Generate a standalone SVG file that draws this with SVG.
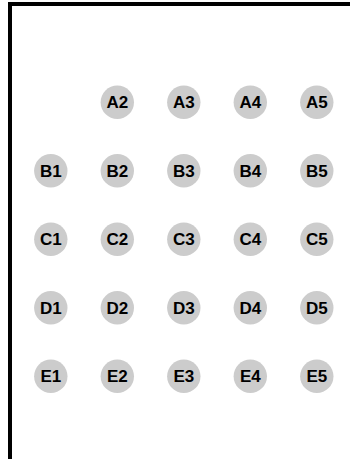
<svg xmlns="http://www.w3.org/2000/svg" width="350" height="459" viewBox="0 0 350 459">
<style>
.n circle{fill:#cccccc}
.n text{font-family:"Liberation Sans",Arial,sans-serif;font-weight:bold;font-size:17px;fill:#000;text-anchor:middle}
</style>
<rect width="350" height="459" fill="#fff"/>
<path d="M10,470 L10,4 L360,4" fill="none" stroke="#000" stroke-width="4"/>
<g id="connectors"/>
<g id="A2" class="n"><circle cx="117.3" cy="102.3" r="16.7"/><text x="117.3" y="108.4">A2</text></g>
<g id="A3" class="n"><circle cx="183.8" cy="102.3" r="16.7"/><text x="183.8" y="108.4">A3</text></g>
<g id="A4" class="n"><circle cx="250.3" cy="102.3" r="16.7"/><text x="250.3" y="108.4">A4</text></g>
<g id="A5" class="n"><circle cx="316.8" cy="102.3" r="16.7"/><text x="316.8" y="108.4">A5</text></g>
<g id="B1" class="n"><circle cx="50.8" cy="170.8" r="16.7"/><text x="50.8" y="176.9">B1</text></g>
<g id="B2" class="n"><circle cx="117.3" cy="170.8" r="16.7"/><text x="117.3" y="176.9">B2</text></g>
<g id="B3" class="n"><circle cx="183.8" cy="170.8" r="16.7"/><text x="183.8" y="176.9">B3</text></g>
<g id="B4" class="n"><circle cx="250.3" cy="170.8" r="16.7"/><text x="250.3" y="176.9">B4</text></g>
<g id="B5" class="n"><circle cx="316.8" cy="170.8" r="16.7"/><text x="316.8" y="176.9">B5</text></g>
<g id="C1" class="n"><circle cx="50.8" cy="239.3" r="16.7"/><text x="50.8" y="245.4">C1</text></g>
<g id="C2" class="n"><circle cx="117.3" cy="239.3" r="16.7"/><text x="117.3" y="245.4">C2</text></g>
<g id="C3" class="n"><circle cx="183.8" cy="239.3" r="16.7"/><text x="183.8" y="245.4">C3</text></g>
<g id="C4" class="n"><circle cx="250.3" cy="239.3" r="16.7"/><text x="250.3" y="245.4">C4</text></g>
<g id="C5" class="n"><circle cx="316.8" cy="239.3" r="16.7"/><text x="316.8" y="245.4">C5</text></g>
<g id="D1" class="n"><circle cx="50.8" cy="307.8" r="16.7"/><text x="50.8" y="313.9">D1</text></g>
<g id="D2" class="n"><circle cx="117.3" cy="307.8" r="16.7"/><text x="117.3" y="313.9">D2</text></g>
<g id="D3" class="n"><circle cx="183.8" cy="307.8" r="16.7"/><text x="183.8" y="313.9">D3</text></g>
<g id="D4" class="n"><circle cx="250.3" cy="307.8" r="16.7"/><text x="250.3" y="313.9">D4</text></g>
<g id="D5" class="n"><circle cx="316.8" cy="307.8" r="16.7"/><text x="316.8" y="313.9">D5</text></g>
<g id="E1" class="n"><circle cx="50.8" cy="376.3" r="16.7"/><text x="50.8" y="382.4">E1</text></g>
<g id="E2" class="n"><circle cx="117.3" cy="376.3" r="16.7"/><text x="117.3" y="382.4">E2</text></g>
<g id="E3" class="n"><circle cx="183.8" cy="376.3" r="16.7"/><text x="183.8" y="382.4">E3</text></g>
<g id="E4" class="n"><circle cx="250.3" cy="376.3" r="16.7"/><text x="250.3" y="382.4">E4</text></g>
<g id="E5" class="n"><circle cx="316.8" cy="376.3" r="16.7"/><text x="316.8" y="382.4">E5</text></g>
</svg>
